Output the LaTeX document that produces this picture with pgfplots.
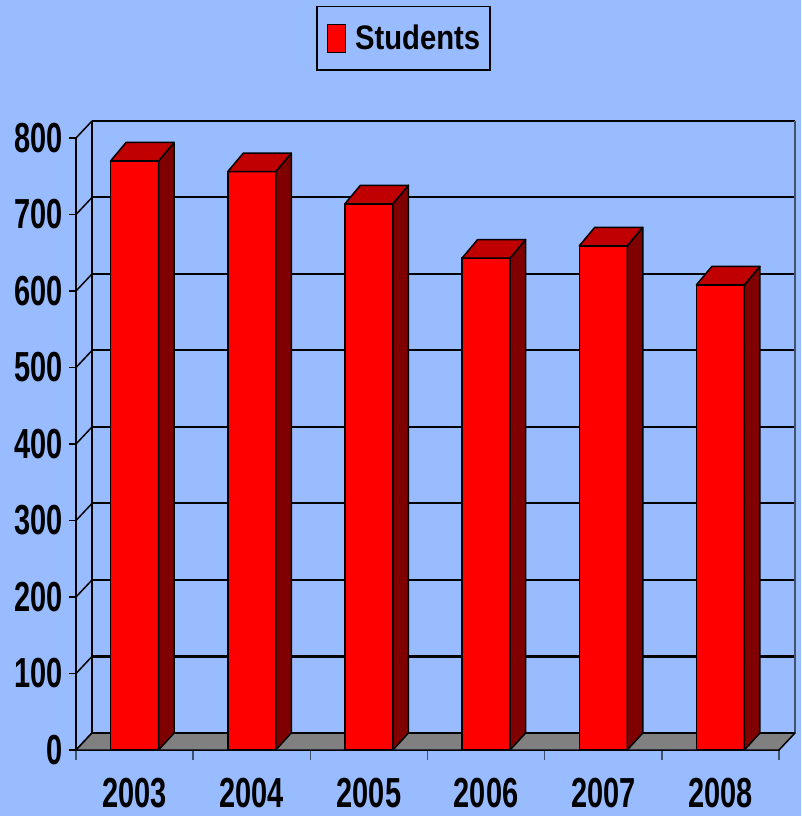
\documentclass[border=0pt]{standalone}
\usepackage{pgfplots}
\pgfplotsset{compat=1.18}
\usepackage{pgfplotstable}
\usepackage{fontspec}
\setmainfont{Liberation Sans}
\newfontfamily\tickfont{Liberation Sans}[FakeStretch=0.69]
\newfontfamily\legfont{Liberation Sans}[FakeStretch=0.86]

\definecolor{bg}{RGB}{153,187,255}
\definecolor{barfront}{RGB}{255,0,0}
\definecolor{bartop}{RGB}{192,0,0}
\definecolor{barside}{RGB}{128,0,0}
\definecolor{floorgray}{RGB}{128,128,128}
\definecolor{edge}{RGB}{64,80,112}

% students per year
\pgfplotstableread{
x year v
0 2003 770
1 2004 756
2 2005 714
3 2006 643
4 2007 659
5 2008 608
}\students

\begin{document}
\begin{tikzpicture}
\fill[bg] (-76pt,-66pt) rectangle (725pt,750pt);
\begin{axis}[
  scale only axis, width=703pt, height=612pt,
  xmin=-0.5, xmax=5.5, ymin=0, ymax=800,
  clip=false,
  axis x line*=bottom, axis y line*=left,
  x axis line style={-, black, line width=1.5pt},
  y axis line style={-, black, line width=1.5pt},
  xtick={0,...,5},
  xticklabels from table={\students}{year},
  minor xtick={-0.5,0.5,1.5,2.5,3.5,4.5,5.5},
  ytick={0,100,...,800},
  tick align=outside,
  major tick length=7pt, minor tick length=10pt,
  major x tick style={draw=none},
  minor x tick style={edge, line width=1.5pt},
  ytick style={black, line width=1.5pt},
  ymajorgrids,
  major grid style={black, line width=2pt, xshift=16pt, yshift=17pt},
  /pgf/number format/assume math mode=true,
  yticklabel style={font=\tickfont\bfseries\fontsize{42}{42}\selectfont, inner sep=0pt, xshift=-6pt},
  xticklabel style={font=\tickfont\bfseries\fontsize{42}{42}\selectfont, inner sep=0pt, yshift=-21pt},
  legend style={at={(0.3414,1.2157)}, anchor=north west, draw=black, line width=1.5pt, fill=bg,
    inner xsep=10pt, inner ysep=17pt, font=\legfont\bfseries\fontsize{34}{34}\selectfont,
    nodes={inner sep=0pt}},
  legend image code/.code={
    \draw[fill=barfront, draw=black, line width=1.2pt] (0pt,-14pt) rectangle (18pt,14pt);
    \path (27pt,0pt);
  },
]
% back wall edges and side wall diagonals
\draw[black, line width=1.5pt] ([xshift=16pt,yshift=17pt]rel axis cs:0,0) -- ([xshift=16pt,yshift=17pt]rel axis cs:0,1);
\draw[edge, line width=2pt] ([xshift=16pt,yshift=17pt]rel axis cs:1,0) -- ([xshift=16pt,yshift=17pt]rel axis cs:1,1);
\pgfplotsinvokeforeach{0,100,200,300,400,500,600,700,800}{
  \draw[black, line width=1.5pt] (axis cs:-0.5,#1) -- ++(16pt,17pt);
}
% floor
\filldraw[fill=floorgray, draw=black, line width=1.5pt, line join=round]
  (rel axis cs:0,0) -- (rel axis cs:1,0) -- ++(16pt,17pt)
  -- ([xshift=16pt,yshift=17pt]rel axis cs:0,0) -- cycle;

\addplot[ybar, bar width=48pt, fill=barfront, draw=black, line width=1.5pt]
  table[x=x, y=v]{\students};
\addlegendentry{Students}

% side and top faces of each bar
\addplot[forget plot, scatter, only marks, mark=*, mark size=0pt,
  mark options={draw=none, fill=none},
  visualization depends on={\thisrow{v}\as\val},
  scatter/@pre marker code/.code={%
    \path (axis direction cs:0,-\val) coordinate (bb);
    \filldraw[fill=barside, draw=black, line width=1.5pt, line join=round]
      (24pt,0pt) -- (39.5pt,18.5pt) -- ([xshift=39.5pt,yshift=17pt]bb) -- ([xshift=24pt]bb) -- cycle;
    \filldraw[fill=bartop, draw=black, line width=1.5pt, line join=round]
      (-24pt,0pt) -- (-8.5pt,18.5pt) -- (39.5pt,18.5pt) -- (24pt,0pt) -- cycle;
  },
  scatter/@post marker code/.code={}
] table[x=x, y=v]{\students};
\end{axis}
\pgfresetboundingbox
\path[use as bounding box] (-76pt,-66pt) rectangle (725pt,750pt);
\end{tikzpicture}
\end{document}
